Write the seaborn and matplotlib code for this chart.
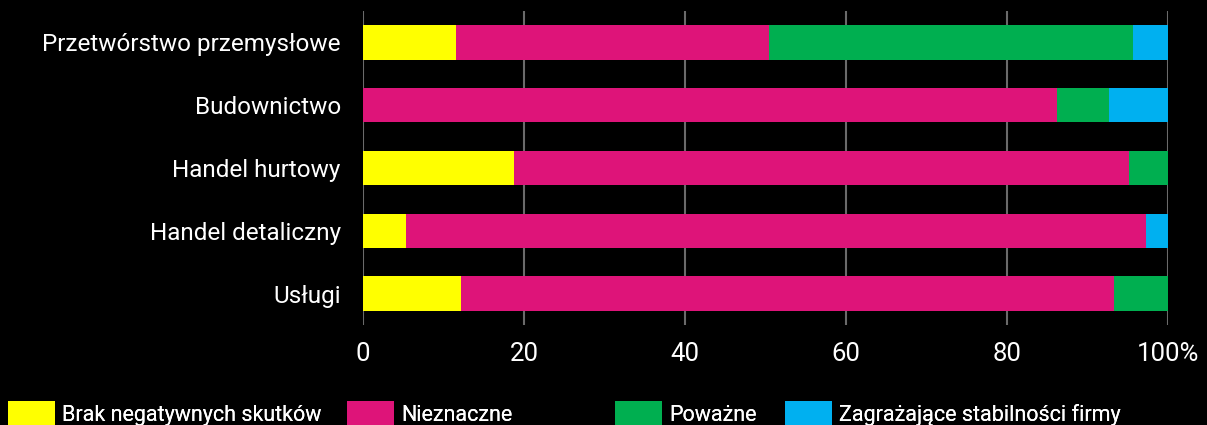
import pandas as pd
import matplotlib.pyplot as plt
import seaborn as sns
from matplotlib.patches import Patch

# dane (% firm)
sectors = ['Przetwórstwo przemysłowe', 'Budownictwo', 'Handel hurtowy',
           'Handel detaliczny', 'Usługi']
brak = [11.5, 0.0, 18.8, 5.3, 12.2]
nieznaczne = [38.9, 86.2, 76.4, 92.0, 81.1]
powazne = [45.3, 6.5, 4.8, 0.0, 6.7]
zagrazajace = [4.3, 7.3, 0.0, 2.7, 0.0]

labels = ['Brak negatywnych skutków', 'Nieznaczne', 'Poważne',
          'Zagrażające stabilności firmy']
colors = ['#FFFF00', '#DE1479', '#00AF50', '#00B0F0']

df = pd.DataFrame({'sektor': sectors, 'brak': brak, 'nieznaczne': nieznaczne,
                   'powazne': powazne, 'zagrazajace': zagrazajace})
cols = ['brak', 'nieznaczne', 'powazne', 'zagrazajace']
cum = df[cols].cumsum(axis=1)

sns.set_style("dark")
plt.rcParams['font.family'] = ['Roboto', 'DejaVu Sans']

fig = plt.figure(figsize=(12.07, 4.25), dpi=100, facecolor='black')
ax = fig.add_axes([363 / 1207, 1 - 325 / 425, 805 / 1207, 314 / 425])
ax.set_facecolor('black')

# skumulowane słupki: od najdłuższego do najkrótszego
for col, c in zip(reversed(cols), reversed(colors)):
    sns.barplot(x=cum[col], y=df['sektor'], color=c, orient='h', width=0.55,
                saturation=1, linewidth=0, ax=ax, zorder=3)

ax.set_xlim(0, 100)
ax.set_xticks([0, 20, 40, 60, 80, 100])
ax.set_xticklabels(['0', '20', '40', '60', '80', '100%'])
ax.grid(axis='x', color='#6a6a6a', linewidth=1.5, zorder=0)
ax.grid(axis='y', visible=False)
for s in ax.spines.values():
    s.set_visible(False)
ax.set_xlabel('')
ax.set_ylabel('')
ax.tick_params(colors='white', length=0)
ax.tick_params(axis='y', labelsize=17.5, pad=16)
ax.tick_params(axis='x', labelsize=18.5, pad=12)

# legenda - każdy element osobno, jak w oryginale
leg_x = [8, 347, 615, 785]
for x, c, lab in zip(leg_x, colors, labels):
    leg = fig.legend([Patch(facecolor=c, edgecolor='none')], [lab],
                     loc='upper left', bbox_to_anchor=(x / 1207, 1 - 401 / 425),
                     frameon=False, fontsize=15.5, labelcolor='white',
                     handlelength=2.2, handleheight=1.5, handletextpad=0.3,
                     borderpad=0, borderaxespad=0)
    fig.add_artist(leg)

fig.savefig('out.png', dpi=100, facecolor='black')
